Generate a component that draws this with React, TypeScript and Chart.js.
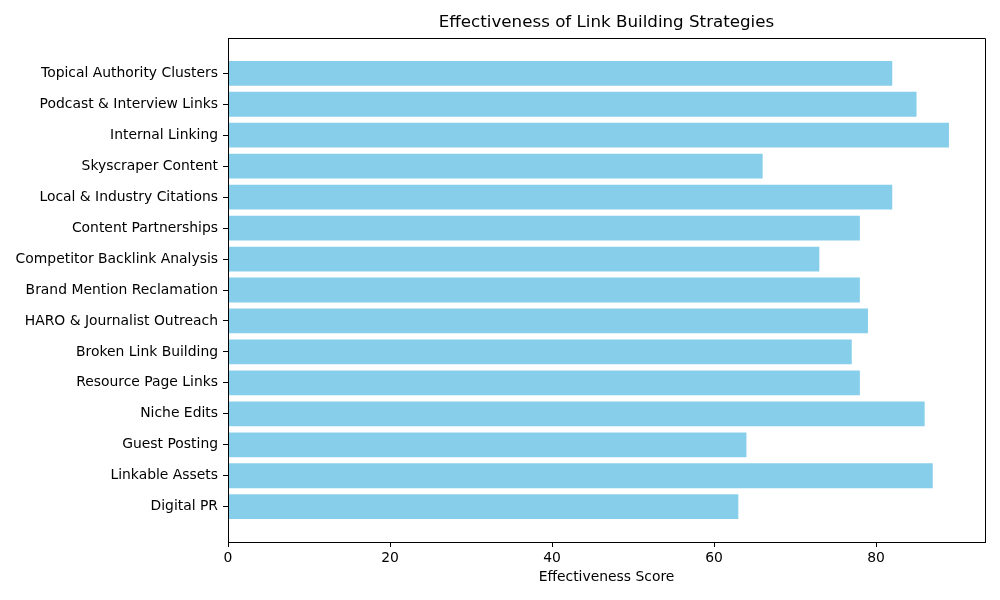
import React, { useEffect, useRef } from "react";
import { Chart, registerables } from "chart.js";

Chart.register(...registerables);

// Strategies listed bottom-to-top (index 0 sits at the bottom of the axis)
const strategies = [
  "Digital PR",
  "Linkable Assets",
  "Guest Posting",
  "Niche Edits",
  "Resource Page Links",
  "Broken Link Building",
  "HARO & Journalist Outreach",
  "Brand Mention Reclamation",
  "Competitor Backlink Analysis",
  "Content Partnerships",
  "Local & Industry Citations",
  "Skyscraper Content",
  "Internal Linking",
  "Podcast & Interview Links",
  "Topical Authority Clusters",
];

const scores = [63, 87, 64, 86, 78, 77, 79, 78, 73, 78, 82, 66, 89, 85, 82];

const xTicks = [0, 20, 40, 60, 80];

const chartTitle = "Effectiveness of Link Building Strategies";
const xAxisTitle = "Effectiveness Score";

const FONT = "'DejaVu Sans', sans-serif";

// Frame on all four sides plus the title and axis label text
const framePlugin = {
  id: "frameAndLabels",
  afterDatasetsDraw(chart: any) {
    const { ctx, chartArea } = chart;
    const { left, right, top, bottom } = chartArea;
    ctx.save();
    ctx.strokeStyle = "#000";
    ctx.lineWidth = 1;
    ctx.beginPath();
    ctx.rect(Math.round(left) + 0.5, Math.round(top) + 0.5, Math.round(right - left), Math.round(bottom - top));
    ctx.stroke();

    const cx = (left + right) / 2;
    ctx.fillStyle = "#000";
    ctx.textAlign = "center";
    ctx.textBaseline = "middle";
    ctx.font = `16.7px ${FONT}`;
    ctx.fillText(chartTitle, cx, 23);
    ctx.font = `13.9px ${FONT}`;
    ctx.fillText(xAxisTitle, cx, 577);
    ctx.restore();
  },
};

export default function App() {
  const canvasRef = useRef<HTMLCanvasElement | null>(null);

  useEffect(() => {
    if (!canvasRef.current) return;
    const maxVal = Math.max(...scores);
    const n = strategies.length;
    // matplotlib-like 5% margins around the data extents
    const yMin = -0.4 - 0.05 * (n - 1 + 0.8);
    const yMax = n - 1 + 0.4 + 0.05 * (n - 1 + 0.8);

    const chart = new Chart(canvasRef.current, {
      type: "bar",
      data: {
        datasets: [
          {
            data: scores.map((v, i) => ({ x: v, y: i })),
            backgroundColor: "#87CEEB",
            borderWidth: 0,
            categoryPercentage: 1,
            barPercentage: 0.8,
          },
        ],
      },
      options: {
        indexAxis: "y",
        animation: false,
        responsive: false,
        maintainAspectRatio: false,
        layout: { padding: { left: 0, right: 15, top: 38, bottom: 0 } },
        plugins: {
          legend: { display: false },
          title: { display: false },
          tooltip: { enabled: false },
        },
        scales: {
          x: {
            type: "linear",
            min: 0,
            max: maxVal * 1.05,
            grid: { drawOnChartArea: false, drawTicks: true, tickLength: 5, color: "#000", tickWidth: 1 },
            border: { display: true, color: "#000", width: 1 },
            ticks: {
              color: "#000",
              padding: 3,
              font: { family: FONT, size: 13.9 },
              maxRotation: 0,
            },
            afterBuildTicks(scale: any) {
              scale.ticks = xTicks.map((v) => ({ value: v }));
            },
            afterFit(scale: any) {
              scale.height = 600 - 542;
            },
          },
          y: {
            type: "linear",
            offset: false,
            min: yMin,
            max: yMax,
            grid: {
              offset: false,
              drawOnChartArea: false,
              drawTicks: true,
              tickLength: 5,
              color: "#000",
              tickWidth: 1,
            },
            border: { display: true, color: "#000", width: 1 },
            ticks: {
              color: "#000",
              padding: 5,
              font: { family: FONT, size: 13.9 },
              callback: (value: any) => strategies[Number(value)] ?? "",
            },
            afterBuildTicks(scale: any) {
              scale.ticks = strategies.map((_, i) => ({ value: i }));
            },
            afterFit(scale: any) {
              scale.width = 228;
            },
          },
        },
      },
      plugins: [framePlugin],
    });

    return () => chart.destroy();
  }, []);

  return (
    <div style={{ position: "absolute", left: 0, top: 0, width: 1000, height: 600, background: "#fff" }}>
      <canvas ref={canvasRef} width={1000} height={600} style={{ width: 1000, height: 600 }} />
    </div>
  );
}
